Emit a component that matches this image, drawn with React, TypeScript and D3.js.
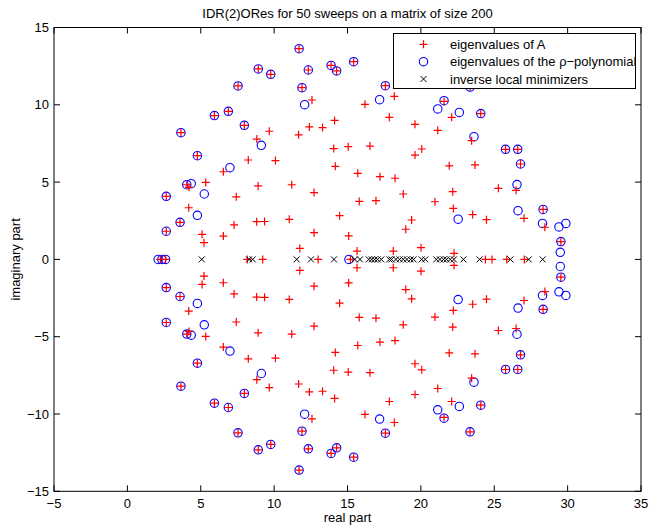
import React from 'react';
import { scaleLinear, range } from 'd3';

// eigenvalues on the real axis
const eigAReal = [2.25, 2.6, 8.17, 9.22, 13.0, 15.2, 24.4, 24.85, 25.85, 27.05];

// complex eigenvalues of A, upper half plane (each comes with its conjugate)
const eigAComplex: [number, number][] = [
  [11.7, 13.63], [8.92, 12.32], [9.77, 11.97], [12.33, 12.25], [7.54, 11.22],
  [11.9, 11.11], [5.93, 9.3], [6.88, 9.58], [7.97, 8.67], [3.65, 8.2],
  [4.77, 6.71], [4.05, 4.83], [2.65, 4.08], [3.59, 2.4], [2.65, 1.82],
  [13.88, 12.55], [14.26, 12.19], [15.42, 12.79], [17.58, 11.24], [23.35, 11.15],
  [24.08, 9.43], [25.77, 7.12], [26.6, 7.12], [26.79, 6.17], [28.33, 3.23],
  [29.54, 1.15],
  [12.58, 10.31], [9.67, 8.29], [11.67, 8.06], [12.4, 8.57], [13.3, 8.53],
  [8.82, 7.78], [8.24, 6.43], [10.09, 6.39], [6.54, 5.67], [5.34, 4.98],
  [4.2, 4.66], [8.91, 4.75], [11.2, 4.83], [12.72, 4.32], [7.42, 4.05],
  [4.18, 3.34], [7.27, 2.23], [8.81, 2.44], [9.35, 2.45], [11.03, 2.59],
  [5.09, 1.62], [12.72, 1.73], [6.54, 1.51], [5.22, 1.08], [11.75, 0.71],
  [16.19, 10.03], [18.19, 10.55], [17.85, 9.19], [14.12, 8.99], [19.6, 8.74],
  [21.15, 8.35], [21.58, 10.22], [22.1, 9.19], [23.46, 7.68], [23.69, 6.11],
  [21.93, 6.05], [14.06, 7.17], [15.05, 7.29], [16.53, 7.33], [20.06, 7.14],
  [19.6, 6.75], [14.17, 6.02], [15.7, 5.57], [17.21, 5.35], [18.24, 5.25],
  [25.28, 4.6], [26.49, 4.47], [18.8, 4.23], [22.17, 4.38], [15.8, 3.75],
  [16.94, 3.8], [20.96, 3.73], [22.21, 3.3], [23.53, 2.9], [14.46, 2.83],
  [27.03, 2.66], [24.47, 2.57], [19.37, 2.55], [18.97, 1.95], [28.45, 2.08],
  [15.08, 1.52], [15.65, 0.54], [18.12, 0.54], [20.01, 0.76], [22.26, 0.39],
];

const rhoReal = [2.1, 2.35, 2.6, 15.1];

const rhoComplex: [number, number][] = [
  [11.7, 13.63], [8.92, 12.32], [9.77, 11.97], [12.33, 12.25], [7.54, 11.22],
  [11.9, 11.11], [5.93, 9.3], [6.88, 9.58], [7.97, 8.67], [3.65, 8.2],
  [4.77, 6.71], [4.05, 4.83], [2.65, 4.08], [3.59, 2.4], [2.65, 1.82],
  [13.88, 12.55], [14.26, 12.19], [15.42, 12.79], [17.58, 11.24], [23.35, 11.15],
  [24.08, 9.43], [25.77, 7.12], [26.6, 7.12], [26.79, 6.17], [28.33, 3.23],
  [29.54, 1.15],
  [12.08, 10.01], [9.13, 7.38], [6.99, 5.93], [4.35, 4.9], [5.24, 4.23],
  [4.77, 2.85], [17.19, 10.33], [21.15, 9.73], [21.58, 10.27], [22.62, 9.51],
  [23.62, 7.94], [26.55, 4.84], [26.62, 3.15], [22.54, 2.6], [28.29, 2.33],
  [29.41, 2.1], [29.88, 2.33], [29.5, 0.46],
];

const minimizers = [
  5.07, 8.29, 8.54, 11.54, 12.51, 14.08, 15.5, 15.85, 16.45, 16.65, 16.85,
  17.05, 17.3, 17.85, 18.0, 18.3, 18.55, 18.8, 19.05, 19.3, 19.5, 20.05, 20.3,
  21.05, 21.3, 21.55, 21.75, 22.0, 22.25, 22.9, 24.0, 26.1, 27.35, 28.3,
];

const xTicks = range(-5, 36, 5);
const yTicks = range(-15, 16, 5);

const legendLabels = ['eigenvalues of A', 'eigenvalues of the \u03c1\u2212polynomial', 'inverse local minimizers'];

const width = 650;
const height = 526;
const left = 54;
const right = 641;
const top = 27.5;
const bottom = 491.3;
const font = '"Liberation Sans", Arial, Helvetica, sans-serif';

const x = scaleLinear().domain([-5, 35]).range([left, right]);
const y = scaleLinear().domain([-15, 15]).range([bottom, top]);

const withConj = (real: number[], cplx: [number, number][]) => [
  ...real.map(r => [r, 0]),
  ...cplx.map(([r, i]) => [r, i]),
  ...cplx.map(([r, i]) => [r, -i]),
];

const plusPath = (a: number, b: number, s = 4) => `M${a - s},${b}H${a + s}M${a},${b - s}V${b + s}`;
const crossPath = (a: number, b: number, s = 3) =>
  `M${a - s},${b - s}L${a + s},${b + s}M${a - s},${b + s}L${a + s},${b - s}`;

const fmt = (v: number) => (v < 0 ? '\u2212' + Math.abs(v) : String(v));

const App = () => {
  const eigA = withConj(eigAReal, eigAComplex);
  const rho = withConj(rhoReal, rhoComplex);
  const tick = 6;

  const legX = 393.5;
  const legY = 33.5;
  const legRows = [44.3, 61.7, 79];

  return (
    <svg width={width} height={height} style={{ position: 'absolute', left: 0, top: 0, display: 'block' }}
      fontFamily={font}>
      <rect width={width} height={height} fill="#fff" />

      <text x={(left + right) / 2} y={17.5} textAnchor="middle" fontSize={13}>
        IDR(2)ORes for 50 sweeps on a matrix of size 200
      </text>

      {/* markers */}
      {rho.map(([r, i], k) => (
        <circle key={k} cx={x(r)} cy={y(i)} r={4.2} fill="none" stroke="#0000ff" strokeWidth={1.1} />
      ))}
      <path d={eigA.map(([r, i]) => plusPath(x(r), y(i))).join('')} stroke="#ff0000" strokeWidth={1.2} fill="none" />
      <path d={minimizers.map(r => crossPath(x(r), y(0))).join('')} stroke="#000" strokeWidth={1} fill="none" />

      {/* axes box and ticks */}
      <rect x={left} y={top} width={right - left} height={bottom - top} fill="none" stroke="#000" strokeWidth={1} />
      {xTicks.map(t => (
        <g key={'x' + t}>
          <line x1={x(t)} x2={x(t)} y1={bottom} y2={bottom - tick} stroke="#000" />
          <line x1={x(t)} x2={x(t)} y1={top} y2={top + tick} stroke="#000" />
          <text x={x(t)} y={508} textAnchor="middle" fontSize={13}>{fmt(t)}</text>
        </g>
      ))}
      {yTicks.map(t => (
        <g key={'y' + t}>
          <line x1={left} x2={left + tick} y1={y(t)} y2={y(t)} stroke="#000" />
          <line x1={right} x2={right - tick} y1={y(t)} y2={y(t)} stroke="#000" />
          <text x={49} y={y(t) + 4.5} textAnchor="end" fontSize={13}>{fmt(t)}</text>
        </g>
      ))}

      <text x={(left + right) / 2} y={522} textAnchor="middle" fontSize={13}>real part</text>
      <text transform={`translate(20,${(top + bottom) / 2}) rotate(-90)`} textAnchor="middle" fontSize={13}>
        imaginary part
      </text>

      {/* legend */}
      <rect x={legX} y={legY} width={242} height={55} fill="#fff" stroke="#000" strokeWidth={1} />
      <path d={plusPath(423.5, legRows[0])} stroke="#ff0000" strokeWidth={1.2} fill="none" />
      <circle cx={423.5} cy={legRows[1]} r={4.2} fill="none" stroke="#0000ff" strokeWidth={1.1} />
      <path d={crossPath(423.5, legRows[2])} stroke="#000" fill="none" />
      {legendLabels.map((l, k) => (
        <text key={l} x={450} y={legRows[k] + 4.5} fontSize={13}>{l}</text>
      ))}
    </svg>
  );
};

export default App;
